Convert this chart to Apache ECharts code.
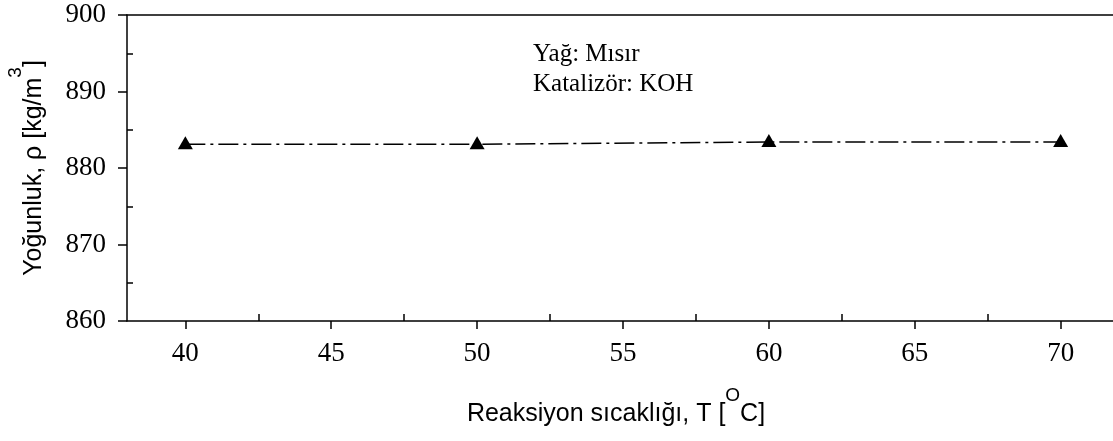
<!DOCTYPE html>
<html>
<head>
<meta charset="utf-8">
<script src="https://cdn.jsdelivr.net/npm/echarts@6/dist/echarts.min.js"></script>
<style>
html,body{margin:0;padding:0;background:#fff;}
#chart{width:1113px;height:441px;}
</style>
</head>
<body>
<div id="chart"></div>
<script>
// ---- data ----
const temperatures = [40, 50, 60, 70];
const density = [883.1, 883.1, 883.4, 883.4];
const xMajorTicks = [40, 45, 50, 55, 60, 65, 70];
const xMinorTicks = [42.5, 47.5, 52.5, 57.5, 62.5, 67.5];
const yMinorTicks = [865, 875, 885, 895];
const annotationLines = ['Yağ: Mısır', 'Katalizör: KOH'];
const xTitle = ['Reaksiyon sıcaklığı, T [', 'O', 'C]'];
const yTitle = ['Yoğunluk, ρ [kg/m', '3', ']'];

const chart = echarts.init(document.getElementById('chart'), null, {renderer: 'canvas'});
const black = '#000';
const serif = 'Liberation Serif';
const sans = 'Liberation Sans';
const titleRich = {
  t: {fontSize: 25, fontFamily: sans, color: black, lineHeight: 41, verticalAlign: 'bottom'},
  s: {fontSize: 19, fontFamily: sans, color: black, lineHeight: 20, verticalAlign: 'top'}
};

const option = {
  backgroundColor: '#fff',
  animation: false,
  grid: {left: 127, top: 15, right: -6, bottom: 120, containLabel: false, outerBoundsMode: 'none'},
  xAxis: [
    {
      type: 'value', min: 38, max: 72, position: 'bottom',
      axisLine: {show: true, lineStyle: {color: black, width: 1.5}},
      axisTick: {show: true, inside: false, length: 8, customValues: xMajorTicks, lineStyle: {color: black, width: 1.5}},
      axisLabel: {show: true, customValues: xMajorTicks, margin: 19, fontSize: 27, fontFamily: serif, color: black},
      splitLine: {show: false},
      name: '{t|' + xTitle[0] + '}{s|' + xTitle[1] + '}{t|' + xTitle[2] + '}',
      nameLocation: 'middle', nameGap: 65,
      nameTextStyle: {rich: titleRich, padding: [0, 14, 0, 0]}
    },
    {
      type: 'value', min: 38, max: 72, position: 'bottom',
      axisLine: {show: false},
      axisTick: {show: true, inside: true, length: 7, customValues: xMinorTicks, lineStyle: {color: black, width: 1.5}},
      axisLabel: {show: false},
      splitLine: {show: false}
    },
    {
      type: 'value', min: 38, max: 72, position: 'top',
      axisLine: {show: true, lineStyle: {color: black, width: 1.5}},
      axisTick: {show: false}, axisLabel: {show: false}, splitLine: {show: false}
    }
  ],
  yAxis: [
    {
      type: 'value', min: 860, max: 900, interval: 10, position: 'left',
      axisLine: {show: true, lineStyle: {color: black, width: 1.5}},
      axisTick: {show: true, inside: false, length: 9, lineStyle: {color: black, width: 1.5}},
      axisLabel: {show: true, margin: 21, fontSize: 27, fontFamily: serif, color: black},
      splitLine: {show: false},
      name: '{t|' + yTitle[0] + '}{s|' + yTitle[1] + '}{t|' + yTitle[2] + '}',
      nameLocation: 'middle', nameGap: 80, nameRotate: 90,
      nameTextStyle: {rich: titleRich}
    },
    {
      type: 'value', min: 860, max: 900, position: 'left',
      axisLine: {show: false},
      axisTick: {show: true, inside: true, length: 6, customValues: yMinorTicks, lineStyle: {color: black, width: 1.5}},
      axisLabel: {show: false},
      splitLine: {show: false}
    }
  ],
  series: [{
    type: 'line',
    xAxisIndex: 0, yAxisIndex: 0,
    data: temperatures.map((t, i) => [t, density[i]]),
    symbol: 'triangle', symbolSize: [15, 13], symbolOffset: [0, -1.5],
    itemStyle: {color: black},
    lineStyle: {color: black, width: 1.5, type: [20, 5, 3, 5]},
    z: 5
  }],
  graphic: [{
    type: 'text', left: 533, top: 39,
    style: {text: annotationLines.join('\n'), font: '25px "Liberation Serif"', lineHeight: 30, fill: black}
  }]
};
chart.setOption(option);
</script>
</body>
</html>
